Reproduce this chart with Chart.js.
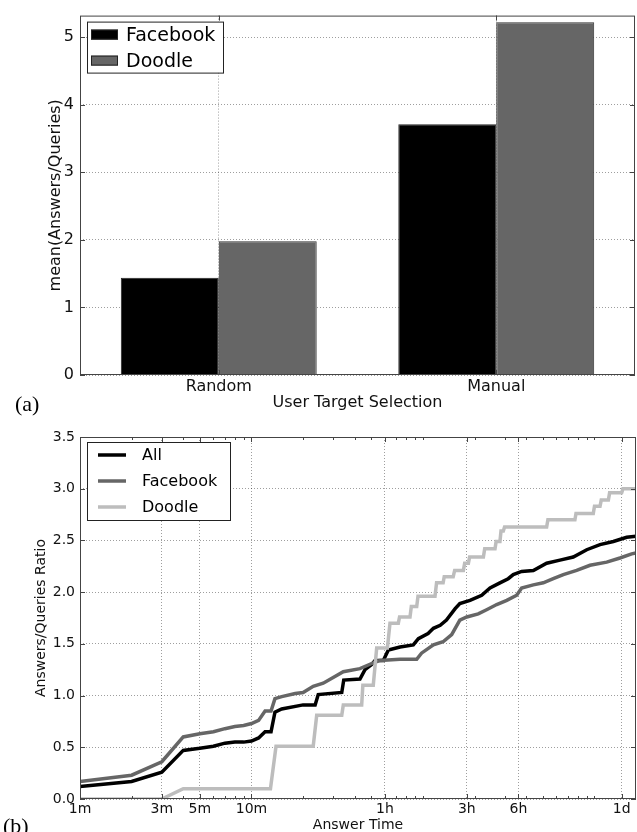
<!DOCTYPE html>
<html>
<head>
<meta charset="utf-8">
<script src="https://cdn.jsdelivr.net/npm/chart.js@4.4.1/dist/chart.umd.min.js"></script>
<style>
  html, body { margin: 0; padding: 0; background: #fff; }
  body { width: 637px; height: 832px; position: relative; overflow: hidden; }
  .panel { position: absolute; left: 0; width: 637px; height: 412px; }
  #wrapA { top: 0; }
  #wrapB { top: 420px; }
  .tag { position: absolute; font-family: "Liberation Serif", "DejaVu Serif", serif; font-size: 22px; line-height: 1; color: #000; }
</style>
</head>
<body>
<div class="panel" id="wrapA"><canvas id="barChart" width="637" height="412"></canvas></div>
<div class="panel" id="wrapB"><canvas id="timeChart" width="637" height="412"></canvas></div>
<span class="tag" style="left:15px; top:393px">(a)</span>
<span class="tag" style="left:3px; top:815px">(b)</span>

<script>
// (a) mean answers per query, by target selection
const selectionModes = ["Random", "Manual"]
const facebookMeans = [1.44, 3.71]
const doodleMeans = [1.98, 5.22]

// (b) answers/queries ratio over answer time (minutes, log axis)
const timeTicks = [1, 3, 5, 10, 60, 180, 360, 1440]
const timeTickLabels = ["1m", "3m", "5m", "10m", "1h", "3h", "6h", "1d"]

const allMinutes = [1, 2, 3, 4, 5, 6, 7, 8, 9, 10, 11, 12, 13, 13.7, 15, 20, 23.5, 24.5, 33.6, 34.5,
  42.9, 45.9, 50.2, 52.5, 58.7, 62.8, 73.5, 87.8, 94, 107, 115, 126, 137, 154, 164, 188, 220, 246,
  281, 314, 336, 376, 440, 526, 629, 752, 901, 1077, 1288, 1541, 1746]
const allRatio = [0.12, 0.17, 0.26, 0.47, 0.49, 0.51, 0.54, 0.55, 0.55, 0.56, 0.59, 0.65, 0.65, 0.84, 0.87, 0.91, 0.91, 1.01, 1.03, 1.15,
  1.16, 1.25, 1.30, 1.34, 1.34, 1.44, 1.47, 1.49, 1.55, 1.60, 1.65, 1.68, 1.73, 1.84, 1.89, 1.92, 1.97, 2.04,
  2.09, 2.13, 2.17, 2.20, 2.21, 2.28, 2.31, 2.34, 2.41, 2.46, 2.49, 2.53, 2.54]

const facebookMinutes = [1, 2, 3, 4, 5, 6, 7, 8, 9, 10, 11, 12, 13, 13.7, 15, 18, 20, 22.9, 26.2, 34.3,
  42.9, 50.2, 56.1, 73.5, 91.9, 98, 115, 131, 147, 164, 180, 210, 235, 269, 308, 352, 376, 440,
  503, 575, 658, 787, 942, 1178, 1408, 1648, 1746]
const facebookRatio = [0.17, 0.23, 0.36, 0.60, 0.63, 0.65, 0.68, 0.70, 0.71, 0.73, 0.76, 0.85, 0.85, 0.97, 0.99, 1.02, 1.03, 1.09, 1.12, 1.23,
  1.26, 1.31, 1.34, 1.35, 1.35, 1.41, 1.49, 1.52, 1.59, 1.73, 1.76, 1.79, 1.83, 1.88, 1.92, 1.97, 2.04, 2.07,
  2.09, 2.13, 2.17, 2.21, 2.26, 2.29, 2.33, 2.37, 2.38]

const doodleMinutes = [1, 3, 4, 12.9, 13.9, 22.9, 24, 33.6, 34.3, 43.9, 44.6, 51.3, 53.7, 62, 64.2, 71.8, 73,
  84, 85.5, 91.9, 93.5, 117.5, 120, 131, 133, 150, 153, 172, 175, 184, 187, 225, 229, 263, 267, 281, 285,
  294, 299, 526, 535, 769, 780, 984, 1000, 1077, 1095, 1205, 1225, 1441, 1465, 1746]
const doodleRatio = [0, 0, 0.10, 0.10, 0.51, 0.51, 0.81, 0.81, 0.91, 0.91, 1.10, 1.10, 1.46, 1.46, 1.70, 1.70, 1.76,
  1.76, 1.86, 1.86, 1.96, 1.96, 2.09, 2.09, 2.15, 2.15, 2.21, 2.21, 2.28, 2.28, 2.34, 2.34, 2.42, 2.42, 2.49, 2.49, 2.59,
  2.59, 2.63, 2.63, 2.70, 2.70, 2.76, 2.76, 2.83, 2.83, 2.89, 2.89, 2.96, 2.96, 3.00, 3.00]

Chart.defaults.font.family = '"DejaVu Sans", sans-serif'
Chart.defaults.color = "#111"

const FRAME = "#444"
const GRID = "rgba(0, 0, 0, 0.38)"

// minor log ticks n*10^k minutes that are not labelled
const minorMinutes = []
for (const k of [1, 10, 100, 1000]) {
  for (let n = 1; n <= 9; n++) {
    const v = n * k
    if (v <= 1746 && !timeTicks.includes(v)) minorMinutes.push(v)
  }
}

const toPoints = (xs, ys) => xs.map((x, i) => ({ x, y: ys[i] }))

// box around the plot plus matplotlib style inward ticks
const frameTicks = {
  id: "frameTicks",
  afterDraw(chart, args, opts) {
    const { ctx, chartArea: a, scales } = chart
    ctx.save()
    ctx.strokeStyle = FRAME
    ctx.lineWidth = 1
    ctx.beginPath()
    scales.y.ticks.forEach((t, i) => {
      const y = Math.round(scales.y.getPixelForTick(i)) + 0.5
      ctx.moveTo(a.left, y); ctx.lineTo(a.left + 5, y)
      ctx.moveTo(a.right, y); ctx.lineTo(a.right - 5, y)
    })
    scales.x.ticks.forEach((t, i) => {
      const x = Math.round(scales.x.getPixelForTick(i)) + 0.5
      ctx.moveTo(x, a.top); ctx.lineTo(x, a.top + 5)
      ctx.moveTo(x, a.bottom); ctx.lineTo(x, a.bottom - 5)
    })
    ;(opts.minor || []).forEach(v => {
      const x = Math.round(scales.x.getPixelForValue(v)) + 0.5
      ctx.moveTo(x, a.top); ctx.lineTo(x, a.top + 3)
      ctx.moveTo(x, a.bottom); ctx.lineTo(x, a.bottom - 3)
    })
    ctx.stroke()
    ctx.strokeRect(a.left + 0.5, a.top + 0.5, a.right - a.left - 1, a.bottom - a.top - 1)
    ctx.restore()
  }
}

// boxed legend in the upper left of the plot
const boxLegend = {
  id: "boxLegend",
  afterDraw(chart, args, o) {
    const { ctx, chartArea: a } = chart
    const x0 = a.left + o.x, y0 = a.top + o.y
    ctx.save()
    ctx.fillStyle = "#fff"
    ctx.fillRect(x0, y0, o.width, o.height)
    ctx.strokeStyle = "#222"
    ctx.lineWidth = 1
    ctx.strokeRect(x0 + 0.5, y0 + 0.5, o.width, o.height)
    ctx.font = `${o.fontSize}px "DejaVu Sans"`
    ctx.textBaseline = "middle"
    chart.data.datasets.forEach((ds, i) => {
      const cy = y0 + o.firstRow + i * o.rowGap
      if (o.swatch === "box") {
        ctx.fillStyle = ds.backgroundColor
        ctx.fillRect(x0 + o.swatchX, cy - 5, o.swatchW, 10)
        ctx.strokeStyle = "#222"
        ctx.strokeRect(x0 + o.swatchX + 0.5, cy - 4.5, o.swatchW - 1, 9)
      } else {
        ctx.strokeStyle = ds.borderColor
        ctx.lineWidth = ds.borderWidth
        ctx.beginPath()
        ctx.moveTo(x0 + o.swatchX, cy)
        ctx.lineTo(x0 + o.swatchX + o.swatchW, cy)
        ctx.stroke()
      }
      ctx.fillStyle = "#000"
      ctx.fillText(ds.label, x0 + o.textX, cy + 1)
    })
    ctx.restore()
  }
}

new Chart(document.getElementById("barChart"), {
  type: "bar",
  data: {
    labels: selectionModes,
    datasets: [
      { label: "Facebook", data: facebookMeans, backgroundColor: "#000", borderColor: "#222", borderWidth: 1 },
      { label: "Doodle", data: doodleMeans, backgroundColor: "#666", borderColor: "#333", borderWidth: 1 }
    ]
  },
  plugins: [frameTicks, boxLegend],
  options: {
    responsive: false,
    animation: false,
    layout: { padding: { top: 10, right: 2, left: 0, bottom: 0 } },
    datasets: { bar: { categoryPercentage: 0.706, barPercentage: 1 } },
    plugins: {
      legend: { display: false },
      tooltip: { enabled: false },
      boxLegend: { x: 7, y: 6, width: 136, height: 51, fontSize: 19, firstRow: 13, rowGap: 26,
        swatch: "box", swatchX: 4, swatchW: 27, textX: 39 }
    },
    scales: {
      x: {
        z: 1,
        grid: { offset: false, color: GRID, drawTicks: false },
        border: { display: false, dash: [1, 2] },
        ticks: { font: { size: 16 }, padding: 2 },
        title: { display: true, text: "User Target Selection", font: { size: 16 }, padding: { top: 0, bottom: 0 } },
        afterFit: s => { s.height = 37 }
      },
      y: {
        z: 1,
        min: 0,
        max: 5.32,
        grid: { color: GRID, drawTicks: false },
        border: { display: false, dash: [1, 2] },
        ticks: { stepSize: 1, includeBounds: false, font: { size: 16 }, padding: 6 },
        title: { display: true, text: "mean(Answers/Queries)", font: { size: 16 }, padding: { top: 46, bottom: 0 } },
        afterFit: s => { s.width = 80 }
      }
    }
  }
})

new Chart(document.getElementById("timeChart"), {
  type: "line",
  data: {
    datasets: [
      { label: "All", data: toPoints(allMinutes, allRatio), borderColor: "#000", borderWidth: 3.5, order: 3 },
      { label: "Facebook", data: toPoints(facebookMinutes, facebookRatio), borderColor: "#666", borderWidth: 3.5, order: 2 },
      { label: "Doodle", data: toPoints(doodleMinutes, doodleRatio), borderColor: "#bdbdbd", borderWidth: 3.5, order: 1 }
    ]
  },
  plugins: [frameTicks, boxLegend],
  options: {
    responsive: false,
    animation: false,
    layout: { padding: { top: 17, right: 1, left: 0, bottom: 0 } },
    elements: { point: { radius: 0 }, line: { tension: 0, fill: false } },
    plugins: {
      legend: { display: false },
      tooltip: { enabled: false },
      frameTicks: { minor: minorMinutes },
      boxLegend: { x: 7, y: 5, width: 143, height: 78, fontSize: 16, firstRow: 13, rowGap: 26,
        swatch: "line", swatchX: 11, swatchW: 28, textX: 55 }
    },
    scales: {
      x: {
        type: "logarithmic",
        min: 1,
        max: 1746,
        grid: { color: GRID, drawTicks: false },
        border: { display: false, dash: [1, 2] },
        afterBuildTicks: s => { s.ticks = timeTicks.map(v => ({ value: v })) },
        ticks: {
          autoSkip: false,
          maxRotation: 0,
          font: { size: 14 },
          padding: 2,
          callback: v => timeTickLabels[timeTicks.indexOf(v)]
        },
        title: { display: true, text: "Answer Time", font: { size: 14, lineHeight: 1 }, padding: { top: 0, bottom: 0 } },
        afterFit: s => { s.height = 33 }
      },
      y: {
        min: 0,
        max: 3.5,
        grid: { color: GRID, drawTicks: false },
        border: { display: false, dash: [1, 2] },
        ticks: { stepSize: 0.5, font: { size: 14 }, padding: 5, callback: v => v.toFixed(1) },
        title: { display: true, text: "Answers/Queries Ratio", font: { size: 14 }, padding: { top: 33, bottom: 0 } },
        afterFit: s => { s.width = 80 }
      }
    }
  }
})
</script>
</body>
</html>
